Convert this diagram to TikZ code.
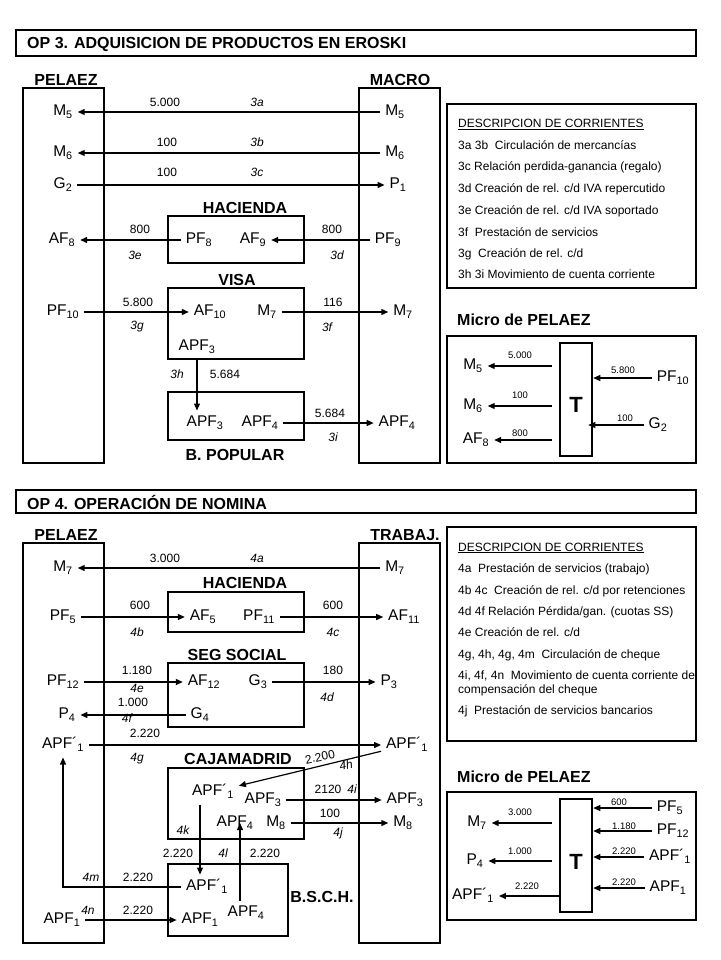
\documentclass[tikz,border=0pt]{standalone}
\usepackage{fontspec}
\setmainfont{Liberation Sans}
\usetikzlibrary{arrows.meta,calc}
\newcommand{\ix}[1]{\textsubscript{#1}}

\begin{document}
\begin{tikzpicture}[x=1pt,y=-1pt,
  lbl/.style={font=\fontsize{15.5}{16}\selectfont,text height=11pt,text depth=4pt,inner sep=2pt,outer sep=3pt},
  hdr/.style={font=\bfseries\fontsize{16}{16}\selectfont,inner sep=0pt},
  val/.style={font=\fontsize{12}{12}\selectfont,inner sep=1pt},
  tag/.style={font=\itshape\fontsize{12}{12}\selectfont,inner sep=1pt},
  tiny/.style={font=\fontsize{9.5}{10}\selectfont,inner sep=1pt},
  txt/.style={font=\fontsize{12}{12}\selectfont,anchor=west,inner sep=0pt,text height=9pt,text depth=3pt},
  box/.style={draw,line width=2.5pt},
  tbox/.style={draw,line width=2.5pt,minimum width=32pt,minimum height=113pt,inner sep=0pt},
  bigT/.style={font=\bfseries\fontsize{22}{22}\selectfont},
  flow/.style={-{Triangle[length=7pt,width=6pt]},line width=1.2pt}
]
\useasboundingbox (0,0) rectangle (720,960);

% OP 3
\draw[line width=2pt] (16,30) rectangle (696,56);
\node[hdr,anchor=west] (op3) at (27,44) {OP 3. ADQUISICION DE PRODUCTOS EN EROSKI};
\node[hdr] (pel3) at (66,80) {PELAEZ};
\node[hdr] (mac3) at (400,80) {MACRO};
\draw[box] (23,88) rectangle (104,463);
\draw[box] (359,88) rectangle (440,463);
\node[hdr] (hac3) at (245,208) {HACIENDA};
\draw[box] (168,216) rectangle (304,263);
\node[hdr] (visa3) at (237,280) {VISA};
\draw[box] (168,288) rectangle (304,359);
\draw[box] (168,392) rectangle (304,440);
\node[hdr] (pop3) at (235,455) {B. POPULAR};

\node[lbl] (p3m5) at (63,112) {M\ix{5}};
\node[lbl] (m3m5) at (395,112) {M\ix{5}};
\node[lbl] (p3m6) at (63,153) {M\ix{6}};
\node[lbl] (m3m6) at (395,153) {M\ix{6}};
\node[lbl] (p3g2) at (63,185) {G\ix{2}};
\node[lbl] (m3p1) at (398,185) {P\ix{1}};
\node[lbl] (p3af8) at (62,240) {AF\ix{8}};
\node[lbl] (h3pf8) at (199,240) {PF\ix{8}};
\node[lbl] (h3af9) at (253,240) {AF\ix{9}};
\node[lbl] (m3pf9) at (388,240) {PF\ix{9}};
\node[lbl] (p3pf10) at (63,312) {PF\ix{10}};
\node[lbl] (v3af10) at (210,312) {AF\ix{10}};
\node[lbl] (v3m7) at (267,312) {M\ix{7}};
\node[lbl] (m3m7) at (403,312) {M\ix{7}};
\node[lbl] (v3apf3) at (197,347) {APF\ix{3}};
\node[lbl] (b3apf3) at (205,423) {APF\ix{3}};
\node[lbl] (b3apf4) at (260,423) {APF\ix{4}};
\node[lbl] (m3apf4) at (397,423) {APF\ix{4}};

\draw[flow] (m3m5) -- (p3m5);
\draw[flow] (m3m6) -- (p3m6);
\draw[flow] (p3g2) -- (m3p1);
\draw[flow] (h3pf8) -- (p3af8);
\draw[flow] (m3pf9) -- (h3af9);
\draw[flow] (p3pf10) -- (v3af10);
\draw[flow] (v3m7) -- (m3m7);
\draw[flow] (v3apf3) -- (v3apf3 |- b3apf3.north);
\draw[flow] (b3apf4) -- (m3apf4);

\node[val] (v3a) at (165,102) {5.000};
\node[tag] (t3a) at (257,102) {3a};
\node[val] (v3b) at (167,142) {100};
\node[tag] (t3b) at (257,142) {3b};
\node[val] (v3c) at (167,172) {100};
\node[tag] (t3c) at (257,172) {3c};
\node[val] (v3e) at (140,229) {800};
\node[tag] (t3e) at (135,255) {3e};
\node[val] (v3d) at (332,229) {800};
\node[tag] (t3d) at (337,255) {3d};
\node[val] (v3g) at (138,302) {5.800};
\node[tag] (t3g) at (137,327) {3g};
\node[val] (v3f) at (333,302) {116};
\node[tag] (t3f) at (327,327) {3f};
\node[tag] (t3h) at (177,374) {3h};
\node[val] (v3h) at (225,374) {5.684};
\node[val] (v3i) at (330,413) {5.684};
\node[tag] (t3i) at (333,437) {3i};

\draw[box] (447,104) rectangle (696,288);
\node[txt] (d3) at (458,125) {\underline{DESCRIPCION DE CORRIENTES}};
\node[txt] (d3a) at (458,147) {3a 3b\ \ Circulación de mercancías};
\node[txt] (d3c) at (458,168) {3c Relación perdida-ganancia (regalo)};
\node[txt] (d3d) at (458,190) {3d Creación de rel. c/d IVA repercutido};
\node[txt] (d3e) at (458,211) {3e Creación de rel. c/d IVA soportado};
\node[txt] (d3f) at (458,233) {3f\ \ Prestación de servicios};
\node[txt] (d3g) at (458,254) {3g\ \ Creación de rel. c/d};
\node[txt] (d3h) at (458,275) {3h 3i Movimiento de cuenta corriente};

\node[hdr,anchor=west] (mic3) at (457,320) {Micro de PELAEZ};
\draw[box] (447,336) rectangle (696,463);
\node[tbox] (t3) at (576,399.5) {};
\node[bigT] (t3T) at (576,405) {T};
\node[lbl] (u3m5) at (473,366) {M\ix{5}};
\node[lbl] (u3m6) at (473,406) {M\ix{6}};
\node[lbl] (u3af8) at (476,440) {AF\ix{8}};
\node[lbl] (u3pf10) at (673,378) {PF\ix{10}};
\node[lbl] (u3g2) at (658,425) {G\ix{2}};
\draw[flow] ($(t3.west |- u3m5)+(-7,0)$) -- (u3m5);
\draw[flow] ($(t3.west |- u3m6)+(-7,0)$) -- (u3m6);
\draw[flow] ($(t3.west |- u3af8)+(-7,0)$) -- (u3af8);
\draw[flow] (u3pf10) -- (u3pf10 -| t3.east);
\draw[flow] (u3g2) -- ($(u3g2 -| t3.east)+(-5,0)$);
\node[tiny] (w3a) at (520,355) {5.000};
\node[tiny] (w3b) at (520,395) {100};
\node[tiny] (w3e) at (520,433) {800};
\node[tiny] (w3g) at (623,370) {5.800};
\node[tiny] (w3c) at (625,418) {100};

% OP 4
\draw[line width=2pt] (16,490) rectangle (696,513);
\node[hdr,anchor=west] (op4) at (27,502) {OP 4. OPERACIÓN DE NOMINA};
\node[hdr] (pel4) at (66,535) {PELAEZ};
\node[hdr] (tra4) at (405,535) {TRABAJ.};
\draw[box] (23,543) rectangle (104,943);
\draw[box] (359,543) rectangle (440,943);
\node[hdr] (hac4) at (245,583) {HACIENDA};
\draw[box] (168,592) rectangle (304,632);
\node[hdr] (seg4) at (237,655) {SEG SOCIAL};
\draw[box] (168,663) rectangle (304,727);
\node[hdr] (caja4) at (238,759) {CAJAMADRID};
\draw[box] (168,768) rectangle (304,839);
\draw[box] (168,864) rectangle (288,936);
\node[hdr] (bsch4) at (322,897) {B.S.C.H.};

\node[lbl] (p4m7) at (63,568) {M\ix{7}};
\node[lbl] (t4m7) at (395,568) {M\ix{7}};
\node[lbl] (p4pf5) at (63,617) {PF\ix{5}};
\node[lbl] (h4af5) at (203,617) {AF\ix{5}};
\node[lbl] (h4pf11) at (259,617) {PF\ix{11}};
\node[lbl] (t4af11) at (404,617) {AF\ix{11}};
\node[lbl] (p4pf12) at (63,682) {PF\ix{12}};
\node[lbl] (s4af12) at (204,682) {AF\ix{12}};
\node[lbl] (s4g3) at (258,682) {G\ix{3}};
\node[lbl] (t4p3) at (389,682) {P\ix{3}};
\node[lbl] (p4p4) at (67,715) {P\ix{4}};
\node[lbl] (s4g4) at (200,715) {G\ix{4}};
\node[lbl] (p4apf1p) at (63,745) {APF´\ix{1}};
\node[lbl] (t4apf1p) at (407,745) {APF´\ix{1}};
\node[lbl] (c4apf1p) at (213,792) {APF´\ix{1}};
\node[lbl] (c4apf3) at (263,800) {APF\ix{3}};
\node[lbl] (t4apf3) at (405,800) {APF\ix{3}};
\node[lbl] (c4apf4) at (235,823) {APF\ix{4}};
\node[lbl] (c4m8) at (276,823) {M\ix{8}};
\node[lbl] (t4m8) at (403,823) {M\ix{8}};
\node[lbl] (b4apf1p) at (207,887) {APF´\ix{1}};
\node[lbl] (b4apf4) at (246,913) {APF\ix{4}};
\node[lbl] (b4apf1) at (200,920) {APF\ix{1}};
\node[lbl] (p4apf1) at (62,920) {APF\ix{1}};
\coordinate (kx) at (200,0);
\coordinate (lx) at (240,0);

\draw[flow] (t4m7) -- (p4m7);
\draw[flow] (p4pf5) -- (h4af5);
\draw[flow] (h4pf11) -- (t4af11);
\draw[flow] (p4pf12) -- (s4af12);
\draw[flow] (s4g3) -- (t4p3);
\draw[flow] (s4g4) -- (p4p4);
\draw[flow] (p4apf1p) -- (t4apf1p);
\draw[flow] (t4apf1p) -- (c4apf1p);
\draw[flow] (c4apf3) -- (t4apf3);
\draw[flow] (c4m8) -- (t4m8);
\draw[flow] (c4apf1p.south -| kx) -- (b4apf1p.north -| kx);
\draw[flow] (b4apf4.north -| lx) -- (c4apf4.center -| lx);
\draw[flow] (b4apf1p) -| (p4apf1p);
\draw[flow] (p4apf1) -- (b4apf1);

\node[val] (v4a) at (165,558) {3.000};
\node[tag] (t4a) at (257,558) {4a};
\node[val] (v4b) at (140,605) {600};
\node[tag] (t4b) at (137,632) {4b};
\node[val] (v4c) at (333,605) {600};
\node[tag] (t4c) at (333,632) {4c};
\node[val] (v4e) at (137,670) {1.180};
\node[tag] (t4e) at (137,688) {4e};
\node[val] (v4d) at (333,670) {180};
\node[tag] (t4d) at (327,697) {4d};
\node[val] (v4f) at (133,702) {1.000};
\node[tag] (t4f) at (127,718) {4f};
\node[val] (v4g) at (145,733) {2.220};
\node[tag] (t4g) at (137,759) {4g};
\node[val,rotate=12] (v4h) at (320,757) {2.200};
\node[tag,rotate=12] (t4h) at (346,765) {4h};
\node[val] (v4i) at (328,789) {2120};
\node[tag] (t4i) at (352,789) {4i};
\node[val] (v4j) at (330,813) {100};
\node[tag] (t4j) at (338,833) {4j};
\node[tag] (t4k) at (183,830) {4k};
\node[val] (v4k) at (178,853) {2.220};
\node[tag] (t4l) at (223,853) {4l};
\node[val] (v4l) at (265,853) {2.220};
\node[tag] (t4m) at (91,877) {4m};
\node[val] (v4m) at (138,877) {2.220};
\node[tag] (t4n) at (88,910) {4n};
\node[val] (v4n) at (138,910) {2.220};

\draw[box] (447,527) rectangle (696,741);
\node[txt] (d4) at (458,548) {\underline{DESCRIPCION DE CORRIENTES}};
\node[txt] (d4a) at (458,569) {4a\ \ Prestación de servicios (trabajo)};
\node[txt] (d4b) at (458,591) {4b 4c\ \ Creación de rel. c/d por retenciones};
\node[txt] (d4d) at (458,612) {4d 4f Relación Pérdida/gan. (cuotas SS)};
\node[txt] (d4e) at (458,633) {4e Creación de rel. c/d};
\node[txt] (d4g) at (458,655) {4g, 4h, 4g, 4m\ \ Circulación de cheque};
\node[txt] (d4i) at (458,676) {4i, 4f, 4n\ \ Movimiento de cuenta corriente de};
\node[txt] (d4i2) at (458,690) {compensación del cheque};
\node[txt] (d4j) at (458,711) {4j\ \ Prestación de servicios bancarios};

\node[hdr,anchor=west] (mic4) at (457,777) {Micro de PELAEZ};
\draw[box] (447,792) rectangle (696,920);
\node[tbox] (t4) at (576,855.5) {};
\node[bigT] (t4T) at (576,862) {T};
\node[lbl] (u4m7) at (477,823) {M\ix{7}};
\node[lbl] (u4p4) at (475,861) {P\ix{4}};
\node[lbl] (u4apf) at (473,896) {APF´\ix{1}};
\node[lbl] (u4pf5) at (670,808) {PF\ix{5}};
\node[lbl] (u4pf12) at (673,831) {PF\ix{12}};
\node[lbl] (u4apfp) at (670,857) {APF´\ix{1}};
\node[lbl] (u4apf1) at (668,888) {APF\ix{1}};
\draw[flow] ($(t4.west |- u4m7)+(-7,0)$) -- (u4m7);
\draw[flow] ($(t4.west |- u4p4)+(-7,0)$) -- (u4p4);
\draw[flow] (t4.west |- u4apf) -- (u4apf);
\draw[flow] (u4pf5) -- (u4pf5 -| t4.east);
\draw[flow] (u4pf12) -- (u4pf12 -| t4.east);
\draw[flow] (u4apfp) -- (u4apfp -| t4.east);
\draw[flow] (u4apf1) -- (u4apf1 -| t4.east);
\node[tiny] (w4a) at (520,812) {3.000};
\node[tiny] (w4f) at (520,851) {1.000};
\node[tiny] (w4m) at (527,886) {2.220};
\node[tiny] (w4b) at (619,802) {600};
\node[tiny] (w4e) at (624,826) {1.180};
\node[tiny] (w4g) at (624,851) {2.220};
\node[tiny] (w4n) at (624,882) {2.220};
\end{tikzpicture}
\end{document}
